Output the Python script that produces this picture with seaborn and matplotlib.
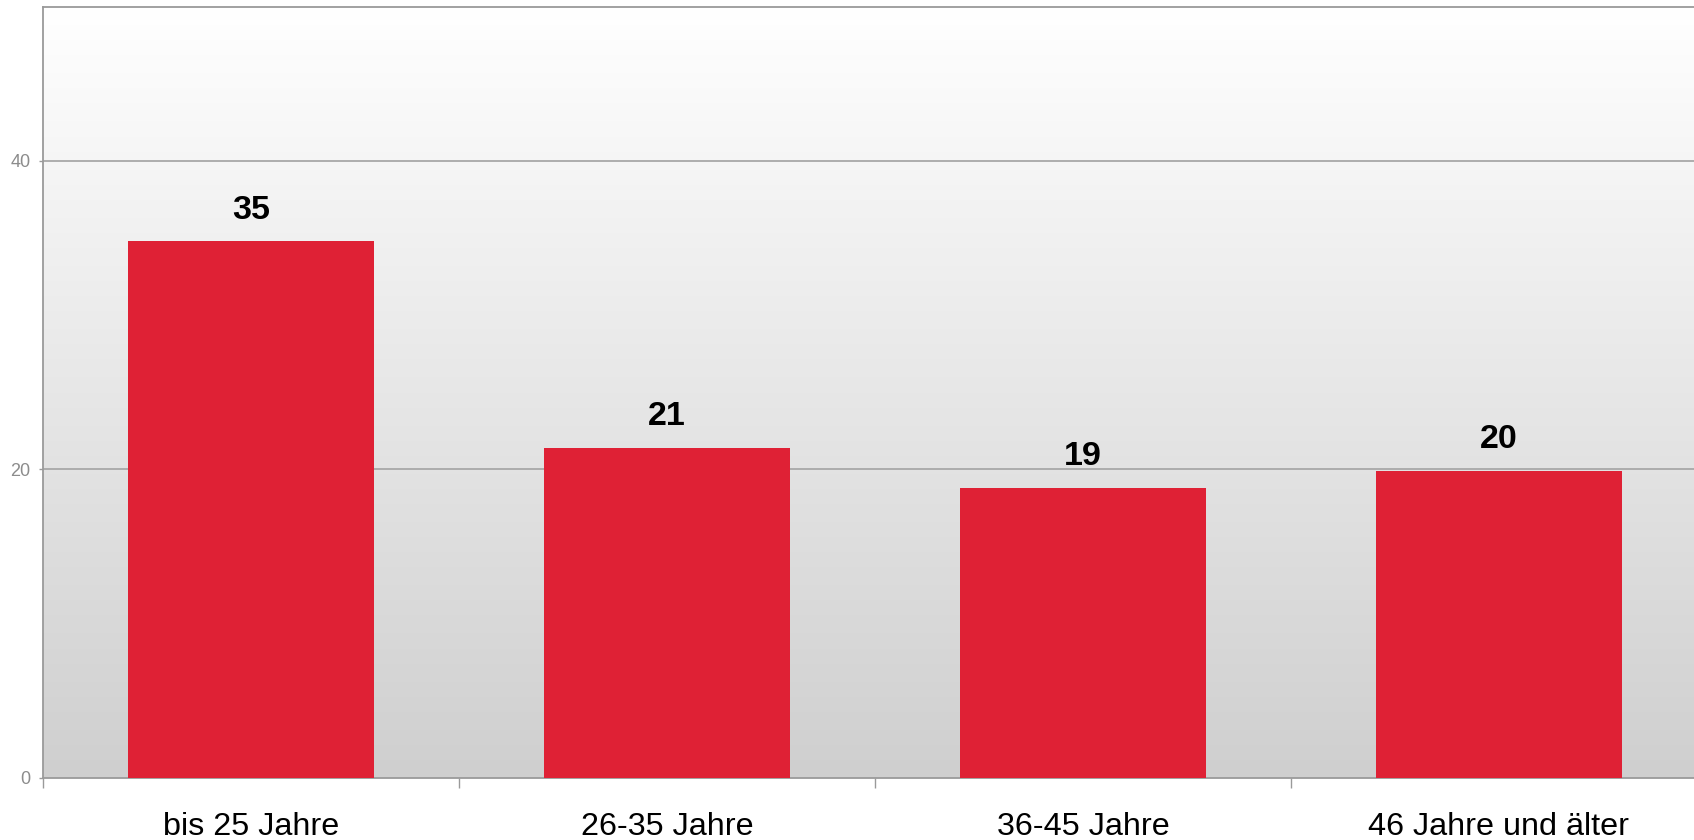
import matplotlib

matplotlib.use("Agg")
import matplotlib.pyplot as plt
import numpy as np
import pandas as pd
import seaborn as sns
from matplotlib.colors import LinearSegmentedColormap

# Altersgruppen und Werte
CATEGORIES = ["bis 25 Jahre", "26-35 Jahre", "36-45 Jahre", "46 Jahre und älter"]
VALUES = [34.8, 21.4, 18.8, 19.9]
Y_TICKS = [0, 20, 40]

BAR_COLOR = "#DF2135"
GRID_COLOR = "#A8A8A8"
SPINE_COLOR = "#9A9A9A"

sns.set_theme(style="white")
plt.rcParams["font.family"] = ["Liberation Sans", "DejaVu Sans"]

df = pd.DataFrame({"gruppe": CATEGORIES, "wert": VALUES})

fig = plt.figure(figsize=(16.94, 8.4), dpi=100)
ax = fig.add_axes([43 / 1694, 1 - 777.5 / 840, 1664 / 1694, 771 / 840])

# Hintergrund-Verlauf (weiss oben -> grau unten)
cmap = LinearSegmentedColormap.from_list("bg", ["#CFCFCF", "#FFFFFF"])
grad = np.linspace(0, 1, 256).reshape(-1, 1)
ax.imshow(grad, cmap=cmap, aspect="auto", extent=[0, 1, 0, 1],
          transform=ax.transAxes, origin="lower", zorder=0)

sns.barplot(data=df, x="gruppe", y="wert", color=BAR_COLOR, width=0.59,
            saturation=1, linewidth=0, ax=ax, zorder=3)

ax.set_xlim(-0.5, len(CATEGORIES) - 0.5)
ax.set_ylim(0, 50)
ax.set_xlabel("")
ax.set_ylabel("")

# Werte ueber den Balken
for cont in ax.containers:
    ax.bar_label(cont, labels=[f"{v:.0f}" for v in VALUES], padding=11,
                 fontsize=24.5, fontweight="bold", color="black")

# Gitter
ax.set_yticks(Y_TICKS)
for y in Y_TICKS[1:]:
    ax.axhline(y, color=GRID_COLOR, lw=1.3, zorder=1)

ax.tick_params(axis="y", which="major", length=3, width=1, color=SPINE_COLOR,
               labelsize=13, labelcolor="#8C8C8C", pad=6, left=True)
ax.set_xticks(range(len(CATEGORIES)))
ax.set_xticklabels(CATEGORIES)
ax.tick_params(axis="x", which="major", length=0, labelsize=23.3,
               labelcolor="black", pad=25)
ax.set_xticks(np.arange(len(CATEGORIES) + 1) - 0.5, minor=True)
ax.tick_params(axis="x", which="minor", length=7.5, width=1,
               color=SPINE_COLOR, bottom=True)

for side in ["left", "top", "bottom", "right"]:
    ax.spines[side].set_color(SPINE_COLOR)
    ax.spines[side].set_linewidth(1.3)

fig.savefig("out.png", dpi=100)
